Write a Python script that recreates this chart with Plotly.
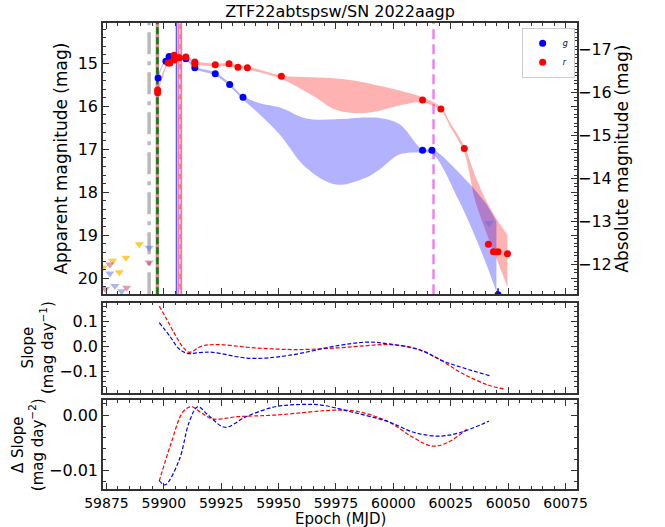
import plotly.graph_objects as go

FONT = "DejaVu Sans"

# ---- photometry (apparent magnitudes) ----
g_mjd = [59897.5, 59900.9, 59902.3, 59909.6, 59913.5, 59922.4, 59928.7, 59934.5, 60012.7, 60016.8, 60045.6]
g_mag = [15.34, 14.95, 14.84, 14.89, 15.10, 15.24, 15.49, 15.79, 17.02, 17.02, 20.38]
g_err = [0.03, 0.02, 0.02, 0.02, 0.02, 0.02, 0.03, 0.03, 0.03, 0.03, 0.15]

r_mjd = [59897.3, 59897.3, 59901.9, 59902.6, 59904.5, 59904.5, 59906.7, 59909.6, 59913.5, 59913.5,
         59922.4, 59928.4, 59932.3, 59936.4, 59951.2, 60012.7, 60020.7, 60030.9, 60041.4, 60043.6,
         60045.6, 60049.7]
r_mag = [15.62, 15.68, 14.99, 14.99, 14.81, 14.92, 14.87, 14.85, 14.97, 15.01,
         15.03, 15.01, 15.09, 15.10, 15.30, 15.85, 16.06, 16.98, 19.21, 19.38,
         19.38, 19.43]
r_err = [0.03] * len(r_mag)

# ---- upper limits ----
lim_o_mjd = [59873.6, 59877.7, 59880.6, 59883.5, 59889.3]
lim_o_mag = [19.75, 19.59, 19.86, 19.52, 19.21]
lim_g_mjd = [59876.5, 59878.7, 59881.6, 59893.6, 60041.7]
lim_g_mag = [19.89, 20.18, 20.30, 19.29, 18.72]
lim_r_mjd = [59874.5, 59876.5, 59883.8, 59893.6]
lim_r_mag = [20.25, 19.68, 20.22, 19.63]

# ---- GP model envelopes ----
gband_mjd = [59897.3, 59900.0, 59903.0, 59909.6, 59913.5, 59922.5, 59928.7, 59934.5, 59942.0, 59950.4,
             59962.0, 59975.0, 59988.0, 59994.0, 60002.6, 60012.7, 60017.1, 60028.7, 60039.6, 60044.9]
gband_hi = [15.30, 14.98, 14.85, 14.86, 15.07, 15.21, 15.46, 15.76, 15.93, 16.02,
            16.28, 16.30, 16.26, 16.27, 16.41, 17.00, 17.00, 17.55, 18.21, 18.68]
gband_lo = [15.40, 15.02, 14.92, 14.93, 15.13, 15.28, 15.53, 15.84, 16.20, 16.65,
            17.43, 17.82, 17.66, 17.47, 17.12, 17.08, 17.11, 18.21, 19.55, 20.32]

rband_mjd = [59897.3, 59900.0, 59902.0, 59905.0, 59909.6, 59913.5, 59922.5, 59928.4, 59936.4, 59951.2,
             59964.9, 59975.0, 59985.2, 59993.9, 60002.6, 60012.7, 60020.7, 60025.0, 60030.9, 60035.7,
             60040.6, 60045.0, 60049.7]
rband_hi = [15.60, 15.15, 14.95, 14.86, 14.83, 14.95, 15.00, 15.00, 15.07, 15.28,
            15.32, 15.35, 15.42, 15.52, 15.63, 15.79, 16.02, 16.40, 16.93, 17.62,
            18.21, 18.62, 18.99]
rband_lo = [15.72, 15.25, 15.02, 14.93, 14.90, 15.02, 15.07, 15.07, 15.14, 15.36,
            15.75, 16.08, 16.16, 16.10, 15.98, 15.91, 16.10, 16.50, 17.08, 18.21,
            18.95, 19.55, 20.20]

# ---- first derivative of the model ----
slope_g_mjd = [59898.0, 59902.9, 59906.6, 59910.2, 59915.5, 59921.2, 59937.6, 59954.0, 59975.9, 59988.7,
               59997.8, 60012.4, 60021.5, 60030.7, 60042.5]
slope_g = [0.096, 0.038, -0.009, -0.027, -0.024, -0.023, -0.047, -0.036, 0.004, 0.018,
           0.011, -0.016, -0.057, -0.086, -0.118]
slope_r_mjd = [59898.0, 59901.1, 59904.7, 59908.4, 59911.1, 59916.5, 59923.0, 59939.4, 59957.7, 59975.9,
               59988.7, 59997.8, 60008.8, 60019.7, 60030.7, 60041.6, 60048.0]
slope_r = [0.162, 0.112, 0.051, -0.003, -0.023, 0.002, 0.008, -0.005, -0.012, -0.005,
           0.004, 0.008, -0.005, -0.050, -0.111, -0.155, -0.169]

# ---- second derivative of the model ----
dslope_g_mjd = [59898.0, 59900.5, 59906.6, 59911.1, 59914.8, 59919.3, 59926.6, 59935.8, 59948.5, 59959.5,
                59968.6, 59981.4, 59997.8, 60008.8, 60019.7, 60028.8, 60041.6]
dslope_g = [-0.0118, -0.0126, -0.0082, -0.0012, 0.0015, 0.0000, -0.0022, -0.0003, 0.0015, 0.0019,
            0.0018, 0.0006, -0.0012, -0.0031, -0.0038, -0.0032, -0.0011]
dslope_r_mjd = [59898.0, 59903.0, 59908.4, 59912.0, 59916.0, 59921.2, 59932.0, 59948.5, 59975.9, 59985.0,
                59997.8, 60008.8, 60017.0, 60023.4, 60032.5]
dslope_r = [-0.0119, -0.0053, 0.0006, 0.0015, 0.0005, -0.0007, -0.0003, 0.0000, 0.0009, 0.0006,
            -0.0012, -0.0041, -0.0056, -0.0050, -0.0024]

# distance modulus linking apparent and absolute magnitude
DIST_MOD = 31.67

# epochs of the vertical markers
t_last_nondet = 59893.6
t_first_det = 59897.2
t_peak_g = 59905.5
t_peak_r = 59907.0
t_late = 60017.5

X_RANGE = [59873.5, 60080.0]
Y_MAIN = [20.37, 14.06]
X_TICKS = [59875, 59900, 59925, 59950, 59975, 60000, 60025, 60050, 60075]

fig = go.Figure()

def band(xs, hi, lo, rgba):
    fig.add_trace(go.Scatter(x=xs, y=hi, mode="lines", line=dict(width=0, shape="spline", smoothing=1.0),
                             hoverinfo="skip", showlegend=False, xaxis="x", yaxis="y"))
    fig.add_trace(go.Scatter(x=xs, y=lo, mode="lines", line=dict(width=0, shape="spline", smoothing=1.0),
                             fill="tonexty", fillcolor=rgba, hoverinfo="skip",
                             showlegend=False, xaxis="x", yaxis="y"))

band(rband_mjd, rband_hi, rband_lo, "rgba(255,0,0,0.3)")
band(gband_mjd, gband_hi, gband_lo, "rgba(0,0,255,0.3)")

def limits(xs, ys, color):
    fig.add_trace(go.Scatter(x=xs, y=ys, mode="markers",
                             marker=dict(symbol="triangle-down", size=8, color=color, line=dict(width=0)),
                             showlegend=False, xaxis="x", yaxis="y"))

limits(lim_o_mjd, lim_o_mag, "rgba(255,185,0,0.75)")
limits(lim_g_mjd, lim_g_mag, "rgba(90,110,220,0.5)")
limits(lim_r_mjd, lim_r_mag, "rgba(200,60,100,0.5)")

fig.add_trace(go.Scatter(x=g_mjd, y=g_mag, mode="markers", name="<i>g</i>", legendrank=1,
                         marker=dict(symbol="circle", size=7, color="blue"),
                         error_y=dict(type="data", array=g_err, color="blue", thickness=1.5, width=0),
                         xaxis="x", yaxis="y"))
fig.add_trace(go.Scatter(x=r_mjd, y=r_mag, mode="markers", name="<i>r</i>", legendrank=2,
                         marker=dict(symbol="circle", size=7, color="red"),
                         error_y=dict(type="data", array=r_err, color="red", thickness=1.5, width=0),
                         xaxis="x", yaxis="y"))

# absolute-magnitude twin axis
fig.add_trace(go.Scatter(x=g_mjd, y=[m - DIST_MOD for m in g_mag], mode="markers",
                         marker=dict(opacity=0), hoverinfo="skip", showlegend=False,
                         xaxis="x", yaxis="y2"))

dash_small = "4px,2px"
fig.add_trace(go.Scatter(x=slope_r_mjd, y=slope_r, mode="lines",
                         line=dict(color="red", width=1.2, dash=dash_small, shape="spline"),
                         showlegend=False, xaxis="x2", yaxis="y3"))
fig.add_trace(go.Scatter(x=slope_g_mjd, y=slope_g, mode="lines",
                         line=dict(color="blue", width=1.2, dash=dash_small, shape="spline"),
                         showlegend=False, xaxis="x2", yaxis="y3"))
fig.add_trace(go.Scatter(x=dslope_r_mjd, y=dslope_r, mode="lines",
                         line=dict(color="red", width=1.2, dash=dash_small, shape="spline"),
                         showlegend=False, xaxis="x3", yaxis="y4"))
fig.add_trace(go.Scatter(x=dslope_g_mjd, y=dslope_g, mode="lines",
                         line=dict(color="blue", width=1.2, dash=dash_small, shape="spline"),
                         showlegend=False, xaxis="x3", yaxis="y4"))

def vline(x, color, width, dash="solid"):
    fig.add_shape(type="line", xref="x", yref="y domain", x0=x, x1=x, y0=0, y1=1,
                  line=dict(color=color, width=width, dash=dash), layer="below")

vline(t_last_nondet, "rgb(185,185,185)", 3.5, "22px,7px,4px,7px")
vline(t_first_det, "rgb(215,140,150)", 3.5)
vline(t_first_det, "green", 2.5, "7px,3px")
vline(t_peak_g, "rgb(90,90,255)", 1.5)
vline(t_peak_r, "rgb(255,120,120)", 4.5)
vline(t_peak_r - 0.3, "violet", 2, "8px,3px")
vline(t_peak_r, "white", 1, "5px,5px")
vline(t_late, "violet", 2.5, "10px,5px")

tickfont = dict(family=FONT, size=16, color="black")
common_x = dict(range=X_RANGE, showline=True, linecolor="#333", linewidth=1.5, mirror="ticks",
                ticks="inside", ticklen=6, tickcolor="#333", tickmode="array", tickvals=X_TICKS,
                ticktext=[str(v) for v in X_TICKS], tickangle=0, automargin=False,
                minor=dict(dtick=5, tick0=59875, ticks="inside", ticklen=3, tickcolor="#333"),
                showgrid=False, zeroline=False, tickfont=dict(family=FONT, size=14, color="black"))
common_y = dict(showline=True, linecolor="#333", linewidth=1.5, mirror="ticks", automargin=False,
                ticks="inside", ticklen=6, tickcolor="#333", showgrid=False, zeroline=False,
                tickfont=tickfont)

PLOT_BOTTOM = 489
fig.update_layout(
    width=665, height=527,
    margin=dict(l=103, r=88, t=23, b=527 - PLOT_BOTTOM),
    paper_bgcolor="white", plot_bgcolor="white",
    font=dict(family=FONT, color="black"),
    title=dict(text="ZTF22abtspsw/SN 2022aagp", x=0.5, xref="paper", y=1 - 11 / 527,
               yref="container", yanchor="middle", font=dict(family=FONT, size=16)),
    showlegend=True,
    legend=dict(x=0.995, xanchor="right", y=0.99, yanchor="top", bgcolor="white",
                bordercolor="#ccc", borderwidth=1, font=dict(family=FONT, size=8),
                itemwidth=30, tracegroupgap=0, traceorder="normal"),
    xaxis=dict(common_x, domain=[0, 1], anchor="y", showticklabels=False),
    yaxis=dict(common_y, domain=[0.418, 1], anchor="x", range=Y_MAIN, dtick=1,
               minor=dict(dtick=0.2, ticks="inside", ticklen=3, tickcolor="#333"),
               title=dict(text="Apparent magnitude (mag)", font=dict(family=FONT, size=17), standoff=6)),
    yaxis2=dict(overlaying="y", side="right", anchor="x", range=[Y_MAIN[0] - DIST_MOD, Y_MAIN[1] - DIST_MOD],
                dtick=1, ticks="inside", ticklen=6, tickcolor="#333", showgrid=False, zeroline=False,
                showline=False, tickfont=tickfont, automargin=False,
                minor=dict(dtick=0.2, ticks="inside", ticklen=3, tickcolor="#333"),
                title=dict(text="Absolute magnitude (mag)", font=dict(family=FONT, size=17), standoff=4)),
    xaxis2=dict(common_x, domain=[0, 1], anchor="y3", matches="x", showticklabels=False),
    yaxis3=dict(common_y, domain=[0.207, 0.400], anchor="x2", range=[-0.184, 0.176], dtick=0.1,
                tickformat=".1f",
                minor=dict(dtick=0.02, ticks="inside", ticklen=3, tickcolor="#333"),
                title=dict(text="Slope<br>(mag day<sup>−1</sup>)", font=dict(family=FONT, size=15), standoff=2)),
    xaxis3=dict(common_x, domain=[0, 1], anchor="y4", matches="x"),
    yaxis4=dict(common_y, domain=[0, 0.19], anchor="x3", range=[-0.01333, 0.00263], dtick=0.01,
                tickformat=".2f",
                minor=dict(dtick=0.002, ticks="inside", ticklen=3, tickcolor="#333"),
                title=dict(text="Δ Slope<br>(mag day<sup>−2</sup>)", font=dict(family=FONT, size=15), standoff=2)),
    annotations=[dict(text="Epoch (MJD)", xref="paper", yref="paper", x=0.5,
                      y=-(519 - PLOT_BOTTOM) / (PLOT_BOTTOM - 23),
                      xanchor="center", yanchor="middle", showarrow=False,
                      font=dict(family=FONT, size=15, color="black"))],
)

fig.write_html("out.html")
